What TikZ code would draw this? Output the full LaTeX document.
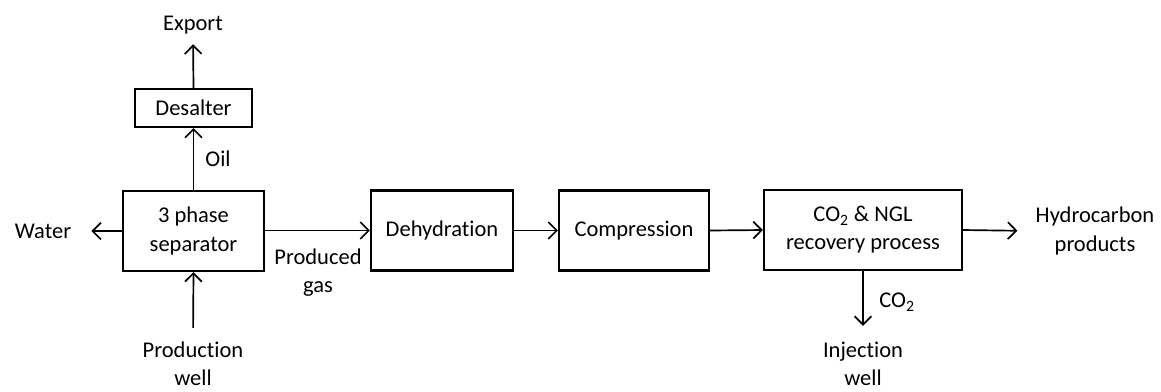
\documentclass[tikz,border=0pt]{standalone}
\usepackage{fontspec}
\setmainfont{Carlito}[Ligatures=NoCommon]
\usetikzlibrary{arrows.meta}

\tikzset{
  unit/.style={draw, line width=1.5pt, inner sep=0pt, align=center},
  flow/.style={-{Straight Barb[length=6pt, width=12pt, line width=1.2pt]}, line width=1.2pt},
  lbl/.style={align=center, inner sep=0pt}
}

\begin{document}
\begin{tikzpicture}[x=0.025cm, y=-0.025cm, font=\fontsize{16}{20}\selectfont]
    \useasboundingbox (0,0) rectangle (1161,391);
    % process units
    \node [unit, minimum width=3.525cm, minimum height=2.0cm] (sep) at (193.5,231) {3 phase\\separator};
    \node [unit, minimum width=2.925cm, minimum height=0.95cm] (desalter) at (193.5,108) {Desalter};
    \node [unit, minimum width=3.55cm, minimum height=2.0cm] (dehyd) at (442,230.5) {Dehydration};
    \node [unit, minimum width=3.75cm, minimum height=2.0cm] (comp) at (634,230.5) {Compression};
    \node [unit, minimum width=4.95cm, minimum height=2.0cm] (recov) at (863,230) {CO\textsubscript{2} \& NGL\\recovery process};
    % streams
    \node [lbl] (export) at (193,25) {Export};
    \node [lbl] (water) at (43,231) {Water};
    \node [lbl] (prodwell) at (193,364) {Production\\well};
    \node [lbl] (prodgas) at (318,273) {Produced\\gas};
    \node [lbl] (oil) at (218,159) {Oil};
    \node [lbl] (hydro) at (1095,231) {Hydrocarbon\\products};
    \node [lbl] (co2) at (897,302) {CO\textsubscript{2}};
    \node [lbl] (injwell) at (863,364) {Injection\\well};
    % connectors
    \draw [flow] (sep.north) -- (desalter.south);
    \draw [flow, shorten >=0.25cm] (desalter.north) -- (export.south);
    \draw [flow, shorten >=0.5cm] (sep.west) -- (water.east);
    \draw [flow, shorten <=0.35cm] (prodwell.north) -- (sep.south);
    \draw [flow] (sep.east |- dehyd.west) -- (dehyd.west);
    \draw [flow] (dehyd.east) -- (comp.west);
    \draw [flow] (comp.east) -- (recov.west);
    \draw [flow, shorten >=0.45cm] (recov.east) -- (hydro.west);
    \draw [flow, shorten >=0.4cm] (recov.south) -- (injwell.north);
\end{tikzpicture}
\end{document}
